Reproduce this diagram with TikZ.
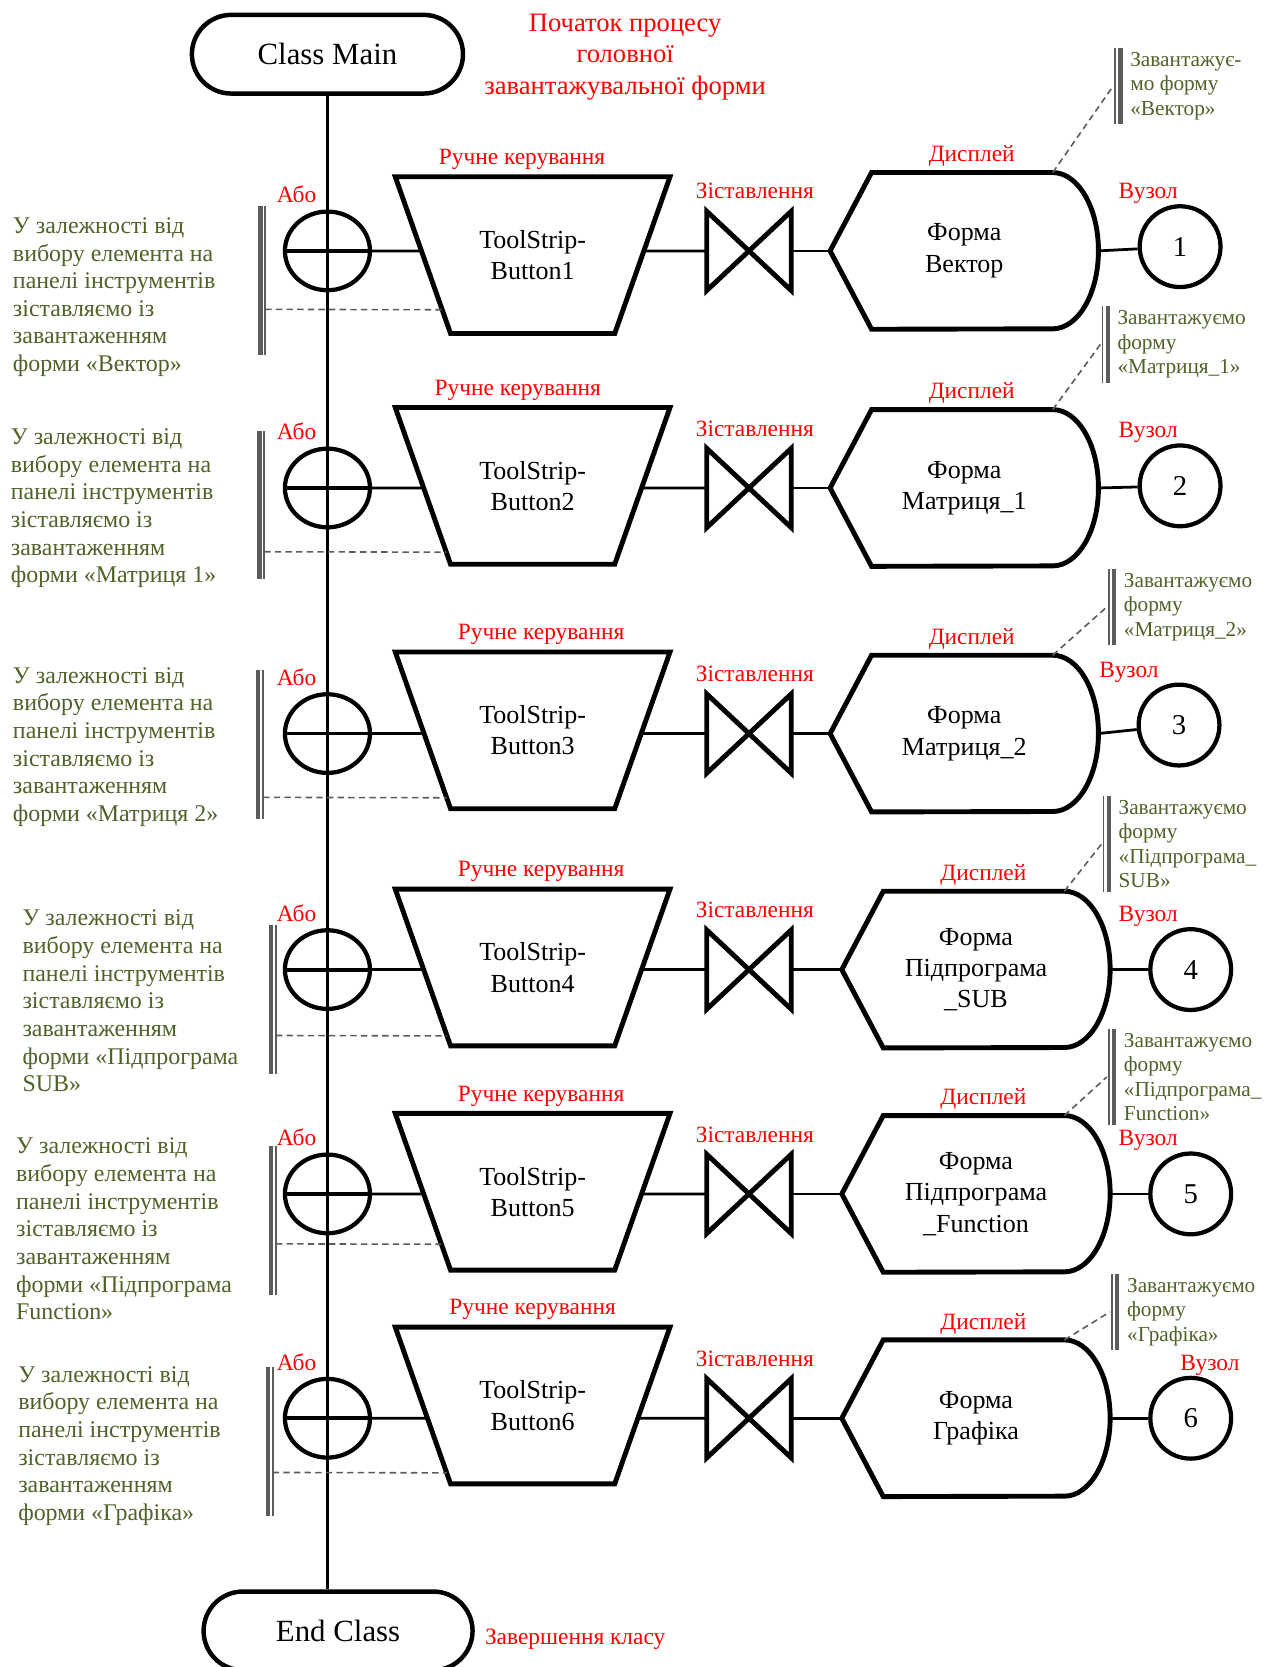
\documentclass[tikz,border=0pt]{standalone}
\usepackage{fontspec}
\setmainfont{Liberation Serif}
\usepackage{tikz}
\usetikzlibrary{shapes.geometric,shapes.misc,positioning,calc}
\definecolor{lblred}{RGB}{255,0,0}
\definecolor{notegreen}{RGB}{79,98,40}
\definecolor{bargray}{RGB}{92,92,92}
\newcommand{\shapefont}{\fontsize{24.5}{29.5}\selectfont}

\begin{document}
\begin{tikzpicture}[
    x=1pt, y=-1pt,
    classbox/.style={rounded rectangle, draw, line width=4.2pt, minimum width=255pt, minimum height=74pt, inner sep=0pt, font=\fontsize{29}{33}\selectfont},
    ornode/.style={ellipse, draw, fill=white, line width=4pt, minimum width=80pt, minimum height=74pt, inner sep=0pt,
        path picture={\draw[line width=3.6pt] (path picture bounding box.north) -- (path picture bounding box.south)
                                              (path picture bounding box.west) -- (path picture bounding box.east);}},
    trbox/.style={rectangle, minimum width=258pt, minimum height=147pt, inner sep=0pt, align=center, font=\shapefont},
    mtbox/.style={rectangle, minimum width=79pt, minimum height=74pt, inner sep=0pt},
    dsbox/.style={rectangle, minimum width=252pt, minimum height=147pt, inner sep=0pt, align=center, font=\shapefont},
    ndnode/.style={circle, draw, line width=4pt, minimum size=76pt, inner sep=0pt, font=\fontsize{27}{30}\selectfont},
    redtext/.style={text=lblred, inner sep=0pt, font=\fontsize{22}{26}\selectfont},
    lnote/.style={text=notegreen, anchor=west, align=left, inner sep=0pt, font=\fontsize{22.5}{26}\selectfont},
    rnote/.style={text=notegreen, anchor=west, align=left, inner xsep=0pt, inner ysep=4pt, font=\fontsize{20}{23}\selectfont},
    shapeline/.style={line width=4.6pt},
    conn/.style={line width=2.6pt},
    mainline/.style={line width=2.4pt},
    noteline/.style={bargray, line width=1.5pt, dash pattern=on 6pt off 4pt},
    barthick/.style={bargray, line width=4pt},
    barthin/.style={bargray, line width=1.6pt}]
\useasboundingbox (0,0) rectangle (1188,1568);

\node[classbox] (cm) at (308,51) {Class Main};
\node[classbox, minimum width=253pt] (ec) at (318,1534) {End Class};
\node[redtext, align=center, font=\fontsize{25}{29.5}\selectfont] (hd) at (588,53.5) {Початок процесу\\головної\\завантажувальної форми};
\node[redtext, anchor=west] (ecl) at (456,1542) {Завершення класу};
\draw[mainline] (cm.south) -- (cm.south |- ec.north);

% one row per form
\foreach \i/\y/\ty/\dx/\cx/\cy/\rx/\vx/\ftxt in {
    1/236/240/907/1110/232/491/1080/{Форма\\Вектор},
    2/459/457/907/1110/457/487/1080/{Форма\\Матриця\_1},
    3/690/687/907/1109/682/509/1062/{Форма\\Матриця\_2},
    4/912/910/918/1120/912/509/1080/{Форма\\Підпрограма\\\_SUB},
    5/1123/1121/918/1120/1123/509/1080/{Форма\\Підпрограма\\\_Function},
    6/1334/1322/918/1120/1334/501/1138/{Форма\\Графіка}}{
  \node[ornode] (or\i) at (308,\y) {};
  \node[trbox] (tr\i) at (501,\ty) {ToolStrip-\\Button\i};
  \node[mtbox] (mt\i) at (704.5,\y) {};
  \node[dsbox] (ds\i) at (\dx,\y) {\ftxt};
  \node[ndnode] (nd\i) at (\cx,\cy) {\i};
  \node[redtext] (ab\i) at (279,\y-53) {Або};
  \node[redtext] (rk\i) at (\rx,\ty-90) {Ручне керування};
  \node[redtext] (zs\i) at (710,\y-56) {Зіставлення};
  \node[redtext] (dp\i) at (\dx+7,\y-89) {Дисплей};
  \node[redtext] (vz\i) at (\vx,\cy-50) {Вузол};
  \coordinate (tl\i) at (tr\i.north west);
  \coordinate (tq\i) at (tr\i.north east);
  \coordinate (bl\i) at ([xshift=52pt]tr\i.south west);
  \coordinate (bq\i) at ([xshift=-52pt]tr\i.south east);
  \pgfmathsetmacro{\sidefrac}{(\y-\ty+73.5)/147}
  \draw[shapeline] (tl\i) -- (tq\i) -- (bq\i) -- (bl\i) -- cycle;
  \draw[shapeline] (mt\i.north west) -- (mt\i.south east) -- (mt\i.north east) -- (mt\i.south west) -- cycle;
  \draw[shapeline] (ds\i.west) -- ([xshift=39pt]ds\i.north west) -- ([xshift=-43pt]ds\i.north east)
      arc[start angle=90, end angle=-90, x radius=43pt, y radius=73.5pt] -- ([xshift=39pt]ds\i.south west) -- cycle;
  \draw[conn] (or\i.east) -- ($(tl\i)!\sidefrac!(bl\i)$);
  \draw[conn] ($(tq\i)!\sidefrac!(bq\i)$) -- (mt\i.west);
  \draw[conn] (mt\i.east) -- (ds\i.west);
  \draw[conn] (ds\i.east) -- (nd\i);
}

% comments on the left
\foreach \i/\tx/\ty/\bx/\by/\dy/\ltxt in {
    1/12/279.5/245/194/291/{форми «Вектор»},
    2/10/478/244/405/519/{форми «Матриця 1»},
    3/12/702.5/243/630/750/{форми «Матриця 2»},
    4/21/941.5/255/870/974/{форми «Підпрограма\\SUB»},
    5/15/1156/255/1078/1170/{форми «Підпрограма\\Function»},
    6/17/1360/252/1286/1385/{форми «Графіка»}}{
  \node[lnote] (ln\i) at (\tx,\ty) {У залежності від\\вибору елемента на\\панелі інструментів\\зіставляємо із\\завантаженням\\\ltxt};
  \draw[barthick] (\bx,\by) -- (\bx,\by+140);
  \draw[barthin] (\bx+4.5,\by) -- (\bx+4.5,\by+140);
  \coordinate (lb\i) at (\bx+4.5,\dy);
  \path (tl\i); \pgfgetlastxy{\topx}{\topy}
  \pgfmathsetmacro{\sidefrac}{(\dy+\topy)/147}
  \draw[noteline] (lb\i) -- ($(tl\i)!\sidefrac!(bl\i)$);
}

% comments on the right
\foreach \i/\nx/\ny/\ntxt in {
    1/1063/81/{Завантажує-\\мо форму\\«Вектор»},
    2/1051/324/{Завантажуємо\\форму\\«Матриця\_1»},
    3/1057/571/{Завантажуємо\\форму\\«Матриця\_2»},
    4/1052/794/{Завантажуємо\\форму\\«Підпрограма\_\\SUB»},
    5/1057/1013/{Завантажуємо\\форму\\«Підпрограма\_\\Function»},
    6/1060/1234/{Завантажуємо\\форму\\«Графіка»}}{
  \node[rnote] (rn\i) at (\nx,\ny) {\ntxt};
  \draw[barthick] ([xshift=-9pt]rn\i.north west) -- ([xshift=-9pt]rn\i.south west);
  \draw[barthin] ([xshift=-14pt]rn\i.north west) -- ([xshift=-14pt]rn\i.south west);
  \draw[noteline] ([xshift=-43pt]ds\i.north east) -- ([xshift=-16pt]rn\i.west);
}

\end{tikzpicture}
\end{document}
